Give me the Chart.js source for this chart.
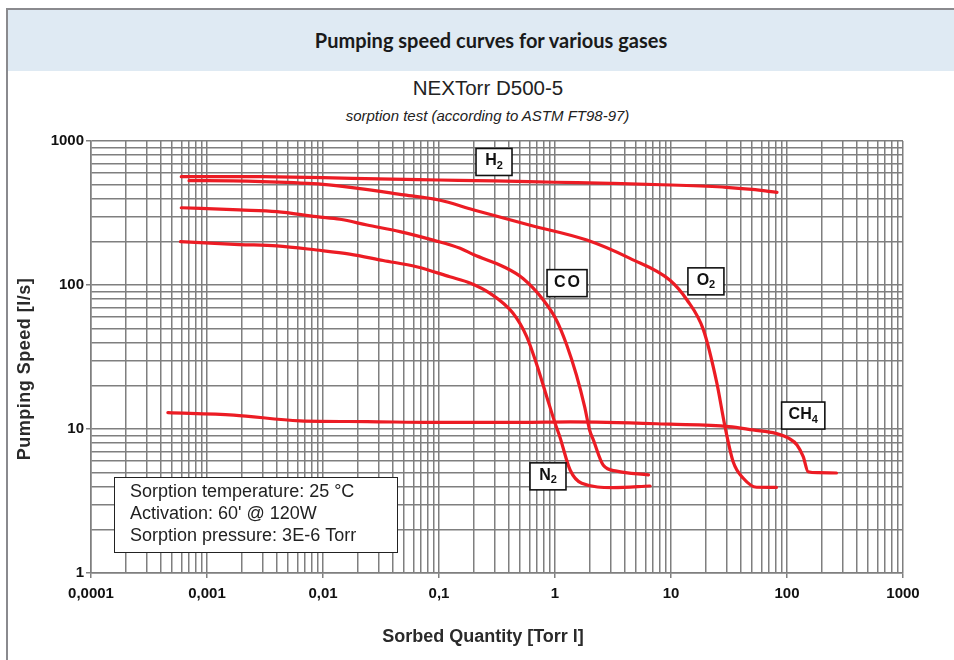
<!DOCTYPE html>
<html><head><meta charset="utf-8">
<script src="https://cdn.jsdelivr.net/npm/chart.js@4"></script>
<style>
html,body{margin:0;padding:0;width:954px;height:660px;overflow:hidden;background:#fff;}
#frameTop{position:absolute;left:6px;top:8px;width:948px;height:2px;background:#8a8a8e;}
#frameLeft{position:absolute;left:6px;top:8px;width:1.5px;height:652px;background:#8a8a8e;}
#band{position:absolute;left:7px;top:10px;width:947px;height:61px;background:#dfeaf3;}
#title{position:absolute;left:0;top:10px;width:982px;height:61px;line-height:61px;text-align:center;font-weight:bold;font-size:20px;font-family:Lato,"Open Sans",sans-serif;color:#1a1a1a;}
#sub1{position:absolute;left:0;top:76px;width:976px;text-align:center;font-size:20.5px;font-family:"Liberation Sans",Arial,sans-serif;color:#222;}
#sub2{position:absolute;left:0;top:107px;width:975px;text-align:center;font-style:italic;font-size:15px;font-family:"Liberation Sans",Arial,sans-serif;color:#222;}
canvas{position:absolute;left:0;top:0;}
</style></head>
<body>
<div id="band"></div>
<div id="frameTop"></div>
<div id="frameLeft"></div>
<div id="title">Pumping speed curves for various gases</div>
<div id="sub1">NEXTorr D500-5</div>
<div id="sub2">sorption test (according to ASTM FT98-97)</div>
<canvas id="c" width="954" height="660"></canvas>
<script>
// ---- data ----
const h2X  = [0.0006, 0.001, 0.003, 0.01, 0.03, 0.1, 0.3, 1, 3, 10, 30, 50, 82];
const h2Y  = [565, 566, 565, 557, 545, 536, 528, 517, 508, 495, 477, 461, 440];
const o2X  = [0.0007, 0.001, 0.003, 0.01, 0.02, 0.05, 0.1, 0.2, 0.6, 1.88, 4.43, 9.8, 13.7, 19, 24.8, 29.2, 34.4, 42, 54.7, 81];
const o2Y  = [530, 530, 522, 500, 469, 422, 389, 332, 261, 205, 153, 108, 79, 49, 21, 10.4, 5.9, 4.55, 3.94, 3.93];
const coX  = [0.0006, 0.0019, 0.004, 0.0088, 0.014, 0.024, 0.046, 0.089, 0.152, 0.2, 0.36, 0.53, 0.79, 1.03, 1.26, 1.53, 1.8, 1.99, 2.14, 2.61, 3.4, 6.4];
const coY  = [344, 332, 323, 298, 286, 261, 235, 205, 180, 162, 134, 111, 79, 57, 38.5, 23.7, 14.3, 9.8, 8.4, 5.6, 5.1, 4.8];
const n2X  = [0.00059, 0.0019, 0.004, 0.0088, 0.017, 0.033, 0.064, 0.124, 0.187, 0.276, 0.435, 0.57, 0.69, 0.85, 1.0, 1.1, 1.35, 1.7, 3.18, 6.6];
const n2Y  = [200, 191, 187, 175, 164, 148, 134, 114, 103, 87.5, 63.6, 43.8, 28.6, 16.7, 11.0, 8.85, 5.19, 4.2, 3.92, 4.02];
const ch4X = [0.00046, 0.0017, 0.0063, 0.024, 0.089, 0.5, 1.35, 9.8, 31.6, 51, 80, 104, 122, 138, 152, 186, 267];
const ch4Y = [13.0, 12.5, 11.4, 11.25, 11.1, 11.1, 11.2, 10.8, 10.4, 9.85, 9.33, 8.6, 7.75, 6.42, 5.05, 4.97, 4.95];

const xTickValues = [0.0001, 0.001, 0.01, 0.1, 1, 10, 100, 1000];
const xTickLabels = ['0,0001', '0,001', '0,01', '0,1', '1', '10', '100', '1000'];
const yTickValues = [1, 10, 100, 1000];
const yTickLabels = ['1', '10', '100', '1000'];

const gasNames   = ['H', 'CO', 'O', 'CH', 'N'];
const gasSubs    = ['2', '', '2', '4', '2'];
const gasLabelX  = [0.298, 1.27, 20, 138, 0.87];
const gasLabelY  = [715, 103, 106, 12.4, 4.69];

const infoLines = ['Sorption temperature: 25 \u00B0C', "Activation: 60' @ 120W", 'Sorption pressure: 3E-6 Torr'];
const infoCorners = [[0.000158, 4.62], [0.0435, 1.39]];

const xTitle = 'Sorbed Quantity [Torr l]';
const yTitle = 'Pumping Speed [l/s]';

// ---- helpers ----
function zip(xs, ys){ return xs.map((v,i)=>({x:v, y:ys[i]})); }
function logTicks(min, max){
  const out = [];
  for (let e = Math.round(Math.log10(min)); e < Math.round(Math.log10(max)); e++) {
    for (let m = 1; m < 10; m++) out.push({value: m * Math.pow(10, e)});
  }
  out.push({value: max});
  return out;
}
function isPow10(v){ const l = Math.log10(v); return Math.abs(l - Math.round(l)) < 1e-9; }
function labelFor(v, vals, labs){
  for (let i = 0; i < vals.length; i++) if (Math.abs(v - vals[i]) / vals[i] < 1e-9) return labs[i];
  return '';
}

const RED = '#ec1c24';
const GRID = '#7f7f7f';
const FONT = '"Liberation Sans", Arial, sans-serif';

function ds(label, xs, ys){
  return {label, data: zip(xs, ys), borderColor: RED, borderWidth: 3.2, pointRadius: 0,
    fill: false, cubicInterpolationMode: 'monotone', borderCapStyle: 'round', borderJoinStyle: 'round'};
}

const annot = {
  id: 'annot',
  afterDatasetsDraw(chart){
    const {ctx, scales:{x, y}} = chart;
    ctx.save();
    gasNames.forEach((name, i) => {
      const cx = x.getPixelForValue(gasLabelX[i]);
      const cy = y.getPixelForValue(gasLabelY[i]);
      ctx.font = 'bold 16px ' + FONT;
      const wMain = ctx.measureText(name).width + (name === 'CO' ? 2 : 0);
      ctx.font = 'bold 11px ' + FONT;
      const wSub = gasSubs[i] ? ctx.measureText(gasSubs[i]).width : 0;
      const tw = wMain + wSub;
      const bw = Math.max(36, tw + 14), bh = 27;
      ctx.fillStyle = '#fff';
      ctx.fillRect(cx - bw/2, cy - bh/2, bw, bh);
      ctx.strokeStyle = '#111';
      ctx.lineWidth = 1.6;
      ctx.strokeRect(cx - bw/2, cy - bh/2, bw, bh);
      ctx.fillStyle = '#111';
      ctx.textBaseline = 'middle';
      ctx.textAlign = 'left';
      ctx.font = 'bold 16px ' + FONT;
      ctx.letterSpacing = name === 'CO' ? '2px' : '0px';
      const sx = cx - tw/2;
      ctx.fillText(name, sx, cy - 1);
      ctx.letterSpacing = '0px';
      if (gasSubs[i]) {
        ctx.font = 'bold 11px ' + FONT;
        ctx.fillText(gasSubs[i], sx + wMain, cy + 4);
      }
    });
    ctx.restore();
  },
  afterDraw(chart){
    const {ctx, scales:{x, y}, chartArea} = chart;
    ctx.save();
    // info box
    const x1 = x.getPixelForValue(infoCorners[0][0]), y1 = y.getPixelForValue(infoCorners[0][1]);
    const x2 = x.getPixelForValue(infoCorners[1][0]), y2 = y.getPixelForValue(infoCorners[1][1]);
    ctx.fillStyle = '#fff';
    ctx.fillRect(x1, y1, x2 - x1, y2 - y1);
    ctx.strokeStyle = '#222';
    ctx.lineWidth = 1;
    ctx.strokeRect(Math.round(x1) + 0.5, Math.round(y1) + 0.5, Math.round(x2 - x1), Math.round(y2 - y1));
    ctx.fillStyle = '#222';
    ctx.font = '18px ' + FONT;
    ctx.textBaseline = 'middle';
    ctx.textAlign = 'left';
    infoLines.forEach((t, i) => ctx.fillText(t, x1 + 16, y1 + 15 + i * 22));
    // axis titles
    ctx.fillStyle = '#2a2a2a';
    ctx.font = 'bold 18px ' + FONT;
    ctx.textAlign = 'center';
    ctx.fillText(xTitle, (chartArea.left + chartArea.right) / 2 - 14, 637);
    ctx.translate(25, (chartArea.top + chartArea.bottom) / 2 + 12);
    ctx.rotate(-Math.PI / 2);
    ctx.letterSpacing = '0.5px';
    ctx.fillText(yTitle, 0, 0);
    ctx.restore();
  }
};

new Chart(document.getElementById('c'), {
  type: 'line',
  data: { datasets: [ds('H2', h2X, h2Y), ds('O2', o2X, o2Y), ds('CO', coX, coY), ds('N2', n2X, n2Y), ds('CH4', ch4X, ch4Y)] },
  options: {
    responsive: false,
    animation: false,
    events: [],
    layout: { padding: { left: 0, top: 141, right: 51, bottom: 0 } },
    plugins: { legend: { display: false }, tooltip: { enabled: false }, title: { display: false } },
    scales: {
      x: {
        type: 'logarithmic', min: 0.0001, max: 1000,
        afterBuildTicks: s => { s.ticks = logTicks(0.0001, 1000); },
        afterFit: s => { s.height = 87; },
        ticks: { autoSkip: false, maxRotation: 0, minRotation: 0, padding: 7, color: '#111',
          font: { family: FONT, size: 15, weight: 'bold' },
          callback: v => labelFor(v, xTickValues, xTickLabels) },
        grid: { color: GRID, lineWidth: 1.5, tickLength: 5, tickWidth: 1.5,
          tickColor: c => (c.tick && isPow10(c.tick.value)) ? GRID : 'rgba(0,0,0,0)' },
        border: { display: true, color: GRID, width: 1.5 }
      },
      y: {
        type: 'logarithmic', min: 1, max: 1000,
        afterBuildTicks: s => { s.ticks = logTicks(1, 1000); },
        afterFit: s => { s.width = 91; },
        ticks: { autoSkip: false, padding: 2, color: '#111',
          font: { family: FONT, size: 15, weight: 'bold' },
          callback: v => labelFor(v, yTickValues, yTickLabels) },
        grid: { color: GRID, lineWidth: 1.5, tickLength: 5, tickWidth: 1.5,
          tickColor: c => (c.tick && isPow10(c.tick.value)) ? GRID : 'rgba(0,0,0,0)' },
        border: { display: true, color: GRID, width: 1.5 }
      }
    }
  },
  plugins: [annot]
});
</script>
</body></html>
